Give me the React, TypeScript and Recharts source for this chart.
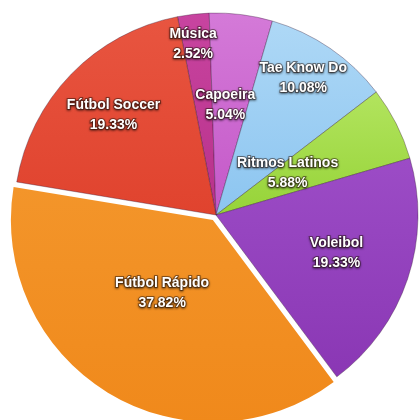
import React from 'react';
import { PieChart, Pie, Cell } from 'recharts';

// sports share, clockwise from the top
const sports = ['Música', 'Capoeira', 'Tae Know Do', 'Ritmos Latinos', 'Voleibol', 'Fútbol Rápido', 'Fútbol Soccer'];
const shares = [2.52, 5.04, 10.08, 5.88, 19.33, 37.82, 19.33];
const percentLabels = ['2.52%', '5.04%', '10.08%', '5.88%', '19.33%', '37.82%', '19.33%'];

const colors = ['#b8318a', '#c458c8', '#8cc5f0', '#96d338', '#8a37b4', '#f0891b', '#e0432e'];
const lightColors = ['#c844a0', '#d47ad8', '#aed8f6', '#b2e45e', '#9c4cc6', '#f3952a', '#e85540'];

// how far out each label sits (fraction of radius)
const labelRadius: Record<string, number> = {
  'Música': 0.83,
  'Capoeira': 0.53,
  'Tae Know Do': 0.8,
  'Ritmos Latinos': 0.42,
  'Voleibol': 0.65,
  'Fútbol Rápido': 0.445,
  'Fútbol Soccer': 0.68,
};

const EXPLODED = 'Fútbol Rápido';
const RADIAN = Math.PI / 180;
const CX = 211;
const CY = 210;
const R = 202;
const START = 101;
// the picture's apex sits a little up-left of the circle centre
const LABEL_DX = -4;
const LABEL_DY = -6;

const data = sports.map((name, i) => ({ name, value: shares[i], pct: percentLabels[i] }));
const explodeIdx = sports.indexOf(EXPLODED);

// offset of the exploded slice along its mid angle
const total = shares.reduce((a, b) => a + b, 0);
const before = shares.slice(0, explodeIdx).reduce((a, b) => a + b, 0);
const explodeMid = START - ((before + shares[explodeIdx] / 2) / total) * 360;
const EXPLODE = 6;
const exDx = EXPLODE * Math.cos(-explodeMid * RADIAN);
const exDy = EXPLODE * Math.sin(-explodeMid * RADIAN);

const renderLabel = (props: any) => {
  const { cx, cy, midAngle, outerRadius, index } = props;
  const name = sports[index];
  const r = outerRadius * labelRadius[name];
  let x = cx + LABEL_DX + r * Math.cos(-midAngle * RADIAN);
  let y = cy + LABEL_DY + r * Math.sin(-midAngle * RADIAN);
  if (name === EXPLODED) {
    x += exDx;
    y += exDy;
  }
  const style: React.CSSProperties = {
    fontFamily: '"Liberation Sans", Arial, sans-serif',
    fontWeight: 'bold',
    fontSize: 14,
    filter: 'drop-shadow(0px 1px 1px rgba(0,0,0,0.75))',
  };
  return (
    <text
      x={x}
      y={y}
      textAnchor="middle"
      fill="#ffffff"
      stroke="rgba(40,20,10,0.45)"
      strokeWidth={2}
      paintOrder="stroke"
      style={style}
    >
      <tspan x={x} dy={-4}>{name}</tspan>
      <tspan x={x} dy={20}>{data[index].pct}</tspan>
    </text>
  );
};

export default function App() {
  React.useEffect(() => {
    document.body.style.margin = '0';
  }, []);

  return (
    <div style={{ width: 419, height: 420, background: '#ffffff' }}>
      <PieChart width={419} height={420}>
        <defs>
          {colors.map((c, i) => (
            <linearGradient key={i} id={`g${i}`} x1="0" y1="0" x2="0" y2="1">
              <stop offset="0%" stopColor={lightColors[i]} />
              <stop offset="100%" stopColor={c} />
            </linearGradient>
          ))}
        </defs>
        {/* exploded slice drawn on its own, shifted centre */}
        <Pie
          data={data}
          dataKey="value"
          cx={CX + exDx}
          cy={CY + exDy}
          outerRadius={R}
          startAngle={START}
          endAngle={START - 360}
          stroke="none"
          isAnimationActive={false}
        >
          {data.map((d, i) => (
            <Cell key={i} fill={d.name === EXPLODED ? `url(#g${i})` : 'none'} />
          ))}
        </Pie>
        <Pie
          data={data}
          dataKey="value"
          cx={CX}
          cy={CY}
          outerRadius={R}
          startAngle={START}
          endAngle={START - 360}
          stroke="rgba(50,20,50,0.35)"
          strokeWidth={1}
          label={renderLabel}
          labelLine={false}
          isAnimationActive={false}
        >
          {data.map((d, i) => (
            <Cell
              key={i}
              fill={d.name === EXPLODED ? 'none' : `url(#g${i})`}
              stroke={d.name === EXPLODED ? 'none' : 'rgba(50,20,50,0.35)'}
            />
          ))}
        </Pie>
      </PieChart>
    </div>
  );
}
